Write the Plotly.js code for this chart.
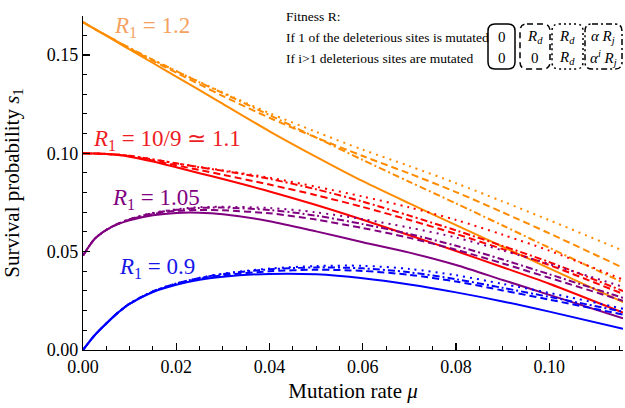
<!DOCTYPE html>
<html>
<head>
<meta charset="utf-8">
<script src="https://cdn.plot.ly/plotly-3.0.1.min.js"></script>
<style>html,body{margin:0;padding:0;background:#fff;}#chart{width:625px;height:408px;}</style>
</head>
<body>
<div id="chart"></div>
<script>
// Mutation rate grid (x values)
const mu = [0, 0.0025, 0.005, 0.0075, 0.01, 0.015, 0.02, 0.025, 0.03, 0.04, 0.05, 0.06, 0.07, 0.08, 0.09, 0.10, 0.1158];

// R1 = 1.2 (orange)
const orangeSolid   = [0.1667, 0.1632, 0.1598, 0.1563, 0.1528, 0.1459, 0.1390, 0.1321, 0.1251, 0.1112, 0.0982, 0.0858, 0.0745, 0.0635, 0.0525, 0.0415, 0.0243];
const orangeDashed  = [0.1667, 0.1632, 0.1599, 0.1566, 0.1533, 0.1470, 0.1410, 0.1350, 0.1291, 0.1180, 0.1080, 0.0986, 0.0897, 0.0803, 0.0700, 0.0593, 0.0418];
const orangeDotted  = [0.1667, 0.1632, 0.1600, 0.1567, 0.1535, 0.1475, 0.1418, 0.1363, 0.1309, 0.1204, 0.1109, 0.1018, 0.0935, 0.0848, 0.0755, 0.0660, 0.0505];
const orangeDashdot = [0.1667, 0.1632, 0.1600, 0.1567, 0.1535, 0.1475, 0.1418, 0.1361, 0.1306, 0.1194, 0.1080, 0.0966, 0.0855, 0.0745, 0.0633, 0.0520, 0.0343];

// R1 = 10/9 (red)
const redSolid   = [0.1000, 0.0999, 0.0996, 0.0991, 0.0983, 0.0958, 0.0929, 0.0899, 0.0869, 0.0806, 0.0737, 0.0662, 0.0583, 0.0503, 0.0421, 0.0337, 0.0190];
const redDashed  = [0.1000, 0.0999, 0.0996, 0.0992, 0.0985, 0.0963, 0.0939, 0.0915, 0.0891, 0.0841, 0.0787, 0.0727, 0.0661, 0.0590, 0.0513, 0.0432, 0.0285];
const redDotted  = [0.1000, 0.0999, 0.0997, 0.0993, 0.0987, 0.0969, 0.0949, 0.0930, 0.0913, 0.0876, 0.0830, 0.0780, 0.0725, 0.0661, 0.0586, 0.0505, 0.0358];
const redDashdot = [0.1000, 0.0999, 0.0997, 0.0993, 0.0987, 0.0969, 0.0949, 0.0929, 0.0911, 0.0870, 0.0817, 0.0754, 0.0683, 0.0608, 0.0529, 0.0447, 0.0300];

// R1 = 1.05 (purple)
const purpleSolid   = [0.0480, 0.0565, 0.0610, 0.0640, 0.0660, 0.0685, 0.0697, 0.0698, 0.0690, 0.0655, 0.0603, 0.0548, 0.0495, 0.0432, 0.0356, 0.0280, 0.0161];
const purpleDashed  = [0.0480, 0.0565, 0.0610, 0.0641, 0.0663, 0.0691, 0.0707, 0.0712, 0.0710, 0.0695, 0.0663, 0.0620, 0.0570, 0.0510, 0.0440, 0.0367, 0.0250];
const purpleDotted  = [0.0480, 0.0565, 0.0611, 0.0642, 0.0665, 0.0697, 0.0715, 0.0726, 0.0728, 0.0722, 0.0700, 0.0665, 0.0622, 0.0572, 0.0506, 0.0437, 0.0321];
const purpleDashdot = [0.0480, 0.0565, 0.0611, 0.0642, 0.0665, 0.0695, 0.0713, 0.0722, 0.0724, 0.0712, 0.0683, 0.0640, 0.0590, 0.0530, 0.0460, 0.0385, 0.0265];

// R1 = 0.9 (blue)
const blueSolid   = [0, 0.0075, 0.0135, 0.0190, 0.0235, 0.0295, 0.0332, 0.0357, 0.0373, 0.0387, 0.0385, 0.0365, 0.0333, 0.0293, 0.0247, 0.0195, 0.0108];
const blueDashed  = [0, 0.0075, 0.0135, 0.0190, 0.0235, 0.0296, 0.0335, 0.0362, 0.0380, 0.0400, 0.0408, 0.0402, 0.0382, 0.0348, 0.0303, 0.0256, 0.0180];
const blueDotted  = [0, 0.0075, 0.0135, 0.0190, 0.0236, 0.0298, 0.0338, 0.0367, 0.0388, 0.0414, 0.0427, 0.0428, 0.0412, 0.0380, 0.0336, 0.0290, 0.0210];
const blueDashdot = [0, 0.0075, 0.0135, 0.0190, 0.0236, 0.0298, 0.0338, 0.0366, 0.0386, 0.0410, 0.0420, 0.0415, 0.0395, 0.0360, 0.0316, 0.0270, 0.0195];

const groupLabels = ['<i>R</i><sub>1</sub> = 1.2', '<i>R</i><sub>1</sub> = 10/9 ≃ 1.1', '<i>R</i><sub>1</sub> = 1.05', '<i>R</i><sub>1</sub> = 0.9'];
const xTickVals = [0, 0.02, 0.04, 0.06, 0.08, 0.10];
const xTickText = ['0.00', '0.02', '0.04', '0.06', '0.08', '0.10'];
const yTickVals = [0, 0.05, 0.10, 0.15];
const yTickText = ['0.00', '0.05', '0.10', '0.15'];

const colors = ['#ff8c00', '#ff0000', '#800080', '#0000ff'];
const labelColors = ['#f4a261', '#ee1c25', '#800080', '#1515e8'];
const dashes = {solid: 'solid', dashed: '7px,4px', dotted: '2px,5px', dashdot: '7px,3px,2px,3px'};

const groups = [
  {solid: orangeSolid, dashed: orangeDashed, dotted: orangeDotted, dashdot: orangeDashdot},
  {solid: redSolid, dashed: redDashed, dotted: redDotted, dashdot: redDashdot},
  {solid: purpleSolid, dashed: purpleDashed, dotted: purpleDotted, dashdot: purpleDashdot},
  {solid: blueSolid, dashed: blueDashed, dotted: blueDotted, dashdot: blueDashdot}
];

const traces = [];
groups.forEach((g, gi) => {
  ['dotted', 'dashdot', 'dashed', 'solid'].forEach(style => {
    traces.push({
      x: mu, y: g[style], type: 'scatter', mode: 'lines', showlegend: false, hoverinfo: 'skip',
      line: {color: colors[gi], width: 2, dash: dashes[style], shape: 'spline', smoothing: 0.8}
    });
  });
});

// plot area geometry (pixels) for decorative legend boxes
const L = 83, R = 2, T = 16, B = 58, W = 625, H = 408;
const pw = W - L - R, ph = H - T - B;
const px = v => (v - L) / pw;
const py = v => (H - B - v) / ph;
function rbox(x0, y0, x1, y1, r) {
  const rx = r / pw, ry = r / ph;
  const a = px(x0), b = px(x1), top = py(y0), bot = py(y1);
  return `M${a + rx},${top} L${b - rx},${top} Q${b},${top} ${b},${top - ry} L${b},${bot + ry} Q${b},${bot} ${b - rx},${bot} L${a + rx},${bot} Q${a},${bot} ${a},${bot + ry} L${a},${top - ry} Q${a},${top} ${a + rx},${top} Z`;
}
const boxes = [
  {x0: 488, x1: 515, dash: 'solid'},
  {x0: 520, x1: 550, dash: '6px,4px'},
  {x0: 552, x1: 583, dash: '2px,3px'},
  {x0: 585, x1: 622, dash: '6px,3px,2px,3px'}
];
const shapes = boxes.map(b => ({
  type: 'path', xref: 'paper', yref: 'paper', path: rbox(b.x0, 24, b.x1, 69, 7),
  line: {color: '#000', width: 1.5, dash: b.dash}
}));

const serif = 'Liberation Serif';
const annotations = [];
const labelPos = [[0.0149, 0.1642], [0.0181, 0.1068], [0.0157, 0.0768], [0.0159, 0.0417]];
groupLabels.forEach((t, i) => annotations.push({
  x: labelPos[i][0], y: labelPos[i][1], xref: 'x', yref: 'y', text: t, showarrow: false,
  font: {family: serif, size: 23, color: labelColors[i]}, xanchor: 'center', yanchor: 'middle'
}));
const infoLines = ['Fitness R:', 'If 1 of the deleterious sites is mutated', 'If i>1 deleterious sites are mutated'];
const infoY = [16, 37, 58];
infoLines.forEach((t, i) => annotations.push({
  x: px(284), y: py(infoY[i]), xref: 'paper', yref: 'paper', text: t, showarrow: false,
  font: {family: serif, size: 13.5, color: '#000'}, xanchor: 'left', yanchor: 'middle'
}));
const cellTop = ['0', '<i>R<sub>d</sub></i>', '<i>R<sub>d</sub></i>', '<i>α R<sub>j</sub></i>'];
const cellBot = ['0', '0', '<i>R<sub>d</sub></i>', '<i>α<sup>i</sup> R<sub>j</sub></i>'];
const cellX = [502, 535, 567, 603];
cellX.forEach((cx, i) => {
  annotations.push({x: px(cx), y: py(37), xref: 'paper', yref: 'paper', text: cellTop[i], showarrow: false,
    font: {family: serif, size: 15, color: '#000'}, xanchor: 'center', yanchor: 'middle'});
  annotations.push({x: px(cx), y: py(58), xref: 'paper', yref: 'paper', text: cellBot[i], showarrow: false,
    font: {family: serif, size: 15, color: '#000'}, xanchor: 'center', yanchor: 'middle'});
});

const layout = {
  width: W, height: H,
  margin: {l: L, r: R, t: T, b: B, pad: 0},
  paper_bgcolor: '#fff', plot_bgcolor: '#fff',
  font: {family: serif, color: '#000'},
  xaxis: {
    range: [0, 0.1158], showgrid: false, zeroline: false, showline: true, linecolor: '#000', linewidth: 1.2,
    ticks: 'inside', ticklen: 7, tickwidth: 1.2, tickcolor: '#000',
    tickvals: xTickVals, ticktext: xTickText, tickfont: {family: serif, size: 18},
    minor: {dtick: 0.005, tick0: 0, ticks: 'inside', ticklen: 4, tickwidth: 1, tickcolor: '#000'},
    title: {text: 'Mutation rate <i>μ</i>', font: {family: serif, size: 21}, standoff: 7}
  },
  yaxis: {
    range: [0, 0.1698], showgrid: false, zeroline: false, showline: true, linecolor: '#000', linewidth: 1.2,
    ticks: 'inside', ticklen: 7, tickwidth: 1.2, tickcolor: '#000',
    tickvals: yTickVals, ticktext: yTickText, tickfont: {family: serif, size: 18},
    minor: {dtick: 0.01, tick0: 0, ticks: 'inside', ticklen: 4, tickwidth: 1, tickcolor: '#000'},
    title: {text: 'Survival probability <i>s</i><sub>1</sub>', font: {family: serif, size: 21}, standoff: 22}
  },
  shapes: shapes,
  annotations: annotations
};

Plotly.newPlot('chart', traces, layout, {staticPlot: true, displayModeBar: false});
</script>
</body>
</html>
